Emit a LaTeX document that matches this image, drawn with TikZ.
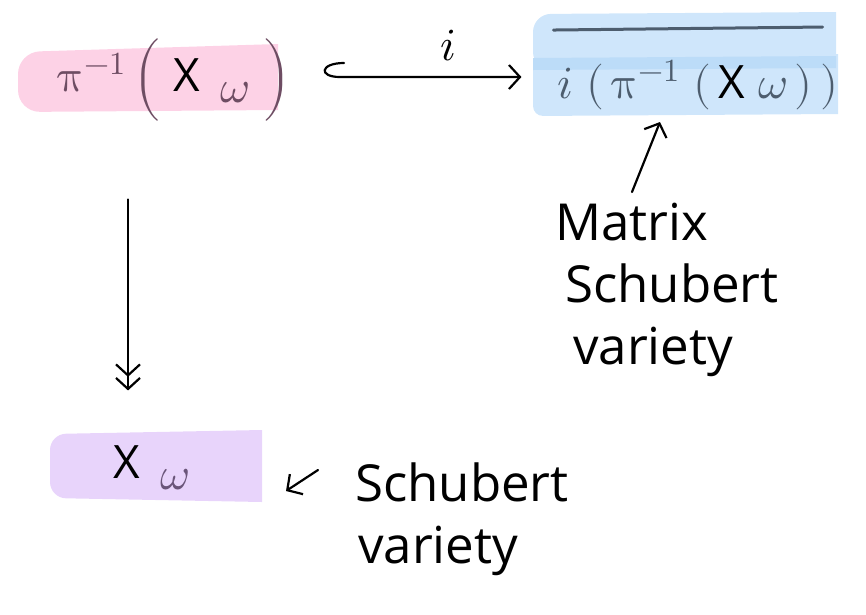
\documentclass[tikz,border=0pt]{standalone}
\usepackage{fontspec}
\usepackage{unicode-math}
\setmainfont{Open Sans}
\setmathfont{Latin Modern Math}
\usetikzlibrary{arrows.meta}
\definecolor{pinkhl}{HTML}{FDD2E6}
\definecolor{mauve}{HTML}{6E4D63}
\definecolor{bluehl}{HTML}{CFE6FB}
\definecolor{bluedk}{HTML}{BCDCF8}
\definecolor{slate}{HTML}{4D5D6E}
\definecolor{purplehl}{HTML}{E8D4FB}
\definecolor{purpletxt}{HTML}{6A5579}
\begin{document}
\begin{tikzpicture}[x=1pt,y=-1pt,
  conn/.style={line width=2.2pt, line cap=round, line join=round},
  mathlbl/.style={inner sep=0pt, font=\fontsize{46}{52}\selectfont},
  hand/.style={inner sep=0pt, align=left, font=\fontsize{51}{62}\selectfont\color{black}},
  barb/.tip={Straight Barb[length=11pt,width=24pt,line width=2.2pt]}
]
\useasboundingbox (0,0) rectangle (866,614);
% highlights
\fill[pinkhl] (278,44) -- (278,110) [rounded corners=22pt] -- (18,112) -- (18,52) [sharp corners] -- cycle;
\fill[bluehl] (836,12) -- (836,68) [rounded corners=18pt] -- (533,70) -- (533,14) [sharp corners] -- cycle;
\fill[bluehl] (838,54) -- (838,114) [rounded corners=10pt] -- (533,116) -- (533,58) [sharp corners] -- cycle;
\fill[bluedk] (836,56) -- (836,68) -- (533,70) -- (533,58) -- cycle;
\fill[purplehl] (262,430) -- (262,502) [rounded corners=16pt] -- (50,498) -- (50,434) [sharp corners] -- cycle;
% nodes
\node[mathlbl] (pre) at (174,80) {\color{mauve}$\uppi^{-1}\,\Bigl(\;{\color{black}\mathup{X}}\;\,{}_{\textstyle\omega}\;\Bigr)$};
\node[mathlbl] (img) at (698,85) {\color{slate}$i\;(\,\uppi^{-1}\;(\,{\color{black}\mathup{X}}\;\omega\,)\,)$};
\draw[slate, line width=3pt, line cap=round] ([xshift=-4pt,yshift=30pt]img.north west) coordinate (ol1) -- ([xshift=-16pt,yshift=33pt]img.north east) coordinate (ol2);
\node[mathlbl] (xw) at (152,468) {$\mathup{X}\;\,{\color{purpletxt}{}_{\textstyle\omega}}$};
\node[hand, anchor=north west] (mtx) at (555,203) {Matrix\\\hspace*{10pt}Schubert\\\hspace*{18pt}variety};
\node[hand, anchor=north west] (sv) at (355,463) {Schubert\\\hspace*{3pt}variety};
% connectors
\coordinate (h0) at (344,63);
\coordinate (h1) at (340,77);
\draw[conn, -{barb[]}, shorten >=36pt] (h0) .. controls (320,63) and (318,77) .. (h1) -- (img.west |- h1)
  node[pos=0.5, above=12pt, font=\fontsize{46}{52}\selectfont] (ilbl) {$i$};
\draw[conn, -{barb[]barb[]}, shorten <=78pt, shorten >=55pt] ([xshift=-46pt]pre.south) -- ([xshift=-24pt]xw.north);
\coordinate (mt) at (632,192);
\draw[conn, -{barb[]}] (mt) -- (660,122);
\coordinate (st) at (318,470);
\draw[conn, -{barb[]}] (st) -- (286,491);
\end{tikzpicture}
\end{document}
